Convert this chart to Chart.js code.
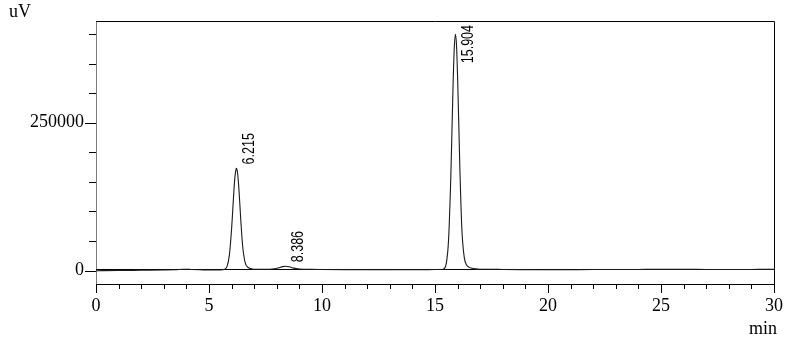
<!DOCTYPE html>
<html>
<head>
<meta charset="utf-8">
<script src="https://cdn.jsdelivr.net/npm/chart.js@4.4.1/dist/chart.umd.min.js"></script>
<style>
  html, body { margin: 0; padding: 0; background: #fff; }
  #wrap { width: 788px; height: 337px; }
</style>
</head>
<body>
<div id="wrap"><canvas id="chromChart" width="788" height="337"></canvas></div>
<script>
// ==============================================================
// 1. DATA
// ==============================================================
// retention time, min
const times = [
  0, 1, 2, 3, 3.5, 3.9, 4.2, 4.6, 5.0, 5.3, 5.6, 5.7, 5.8, 5.9, 6.0, 6.05, 6.1, 6.15,
  6.2, 6.215, 6.25, 6.3, 6.35, 6.4, 6.45, 6.5, 6.6, 6.7, 6.8, 6.9, 7.0, 7.5, 7.9, 8.1,
  8.25, 8.386, 8.55, 8.75, 9.0, 9.5, 10, 11, 12, 13, 14, 14.6, 15.0, 15.2, 15.3, 15.4,
  15.5, 15.6, 15.7, 15.75, 15.8, 15.85, 15.904, 15.95, 16.0, 16.05, 16.1, 16.15, 16.2,
  16.3, 16.4, 16.5, 16.6, 16.8, 17.0, 17.5, 18, 19, 20, 21, 22, 23, 24, 25, 26, 27, 28,
  29, 30, 30.6
];
// detector signal, uV
const signal = [
  0, 300, 700, 1100, 1500, 2300, 2100, 1700, 1100, 1200, 1600, 2400, 7200, 25800, 70800, 102000, 133800, 159300,
  172000, 172800, 168800, 150300, 121500, 89700, 60300, 37400, 13600, 6400, 4000, 3000, 2400, 2200, 3200, 4800,
  6800, 7600, 6600, 4300, 2900, 2200, 2000, 1800, 1700, 1700, 1800, 1850, 1900, 2000, 2100, 3300,
  12300, 52000, 159000, 236000, 314000, 374000, 399500, 382000, 327000, 251000, 173000, 109000, 62000,
  21200, 9600, 6000, 4400, 3000, 2500, 2300, 2100, 1800, 1600, 1700, 1900, 2000, 2100, 2200, 2200, 2100, 2000,
  2100, 2200, -1200
];
// straight baseline drawn under the trace
const baselineTimes = [0, 30];
const baselineValues = [2000, 2000];

// peak annotations
const peakTimes = [6.215, 8.386, 15.904];
const peakHeights = [172800, 7600, 399500];
const peakLabels = ['6.215', '8.386', '15.904'];

// axes
const xTickLabels = [0, 5, 10, 15, 20, 25, 30];
const xMinorTicks = [0, 1, 2, 3, 4, 5, 6, 7, 8, 9, 10, 11, 12, 13, 14, 15, 16, 17, 18, 19, 20, 21, 22, 23, 24, 25, 26, 27, 28, 29, 30];
const yTickLabels = [0, 250000];
const yMinorTicks = [50000, 100000, 150000, 200000, 300000, 350000, 400000];

const SERIF = '"Liberation Serif", "Times New Roman", serif';

// ==============================================================
// 2. PLUGIN: frame, tick marks, axis units, peak labels
// ==============================================================
const chromDecor = {
  id: 'chromDecor',
  afterDraw(chart) {
    const { ctx, chartArea: a, scales: { x, y } } = chart;
    ctx.save();
    ctx.strokeStyle = '#000';
    ctx.lineWidth = 1;

    // top + right frame
    ctx.beginPath();
    ctx.moveTo(a.left, Math.round(a.top) + 0.5);
    ctx.lineTo(Math.round(a.right) + 0.5, Math.round(a.top) + 0.5);
    ctx.lineTo(Math.round(a.right) + 0.5, Math.round(a.bottom) + 4);
    ctx.stroke();

    // x tick marks (major every 5 min)
    ctx.beginPath();
    xMinorTicks.forEach(t => {
      const px = Math.round(x.getPixelForValue(t)) + 0.5;
      const len = xTickLabels.includes(t) ? 9 : 5;
      ctx.moveTo(px, a.bottom);
      ctx.lineTo(px, a.bottom + len);
    });
    // y tick marks
    [...yTickLabels, ...yMinorTicks].forEach(v => {
      const py = Math.round(y.getPixelForValue(v)) + 0.5;
      const len = yTickLabels.includes(v) ? 11 : 7;
      ctx.moveTo(a.left - len, py);
      ctx.lineTo(a.left, py);
    });
    ctx.stroke();

    // units
    ctx.fillStyle = '#000';
    ctx.font = '18px ' + SERIF;
    ctx.textBaseline = 'alphabetic';
    ctx.textAlign = 'left';
    ctx.fillText('uV', 9, 17);
    ctx.textAlign = 'right';
    ctx.fillText('min', 777, 334);

    // peak retention time labels, rotated
    ctx.font = '16px "Liberation Sans", Arial, sans-serif';
    ctx.textAlign = 'left';
    ctx.textBaseline = 'middle';
    peakLabels.forEach((lbl, i) => {
      const px = x.getPixelForValue(peakTimes[i]) + 13;
      let py = y.getPixelForValue(peakHeights[i]) - 4;
      const len = ctx.measureText(lbl).width * 0.78;
      if (py - len < a.top + 4) py = a.top + 4 + len;
      ctx.save();
      ctx.translate(px, py);
      ctx.rotate(-Math.PI / 2);
      ctx.scale(0.78, 1);
      ctx.fillText(lbl, 0, 0);
      ctx.restore();
    });
    ctx.restore();
  }
};

// ==============================================================
// 3. CHART
// ==============================================================
const toPoints = (xs, ys) => xs.map((t, i) => ({ x: t, y: ys[i] }));

new Chart(document.getElementById('chromChart').getContext('2d'), {
  type: 'line',
  data: {
    datasets: [
      {
        label: 'signal',
        data: toPoints(times, signal),
        borderColor: '#1a1a1a',
        borderWidth: 1.1,
        pointRadius: 0,
        cubicInterpolationMode: 'monotone',
        clip: { left: 0, top: 0, right: 20, bottom: 0 },
        order: 0
      },
      {
        label: 'baseline',
        data: toPoints(baselineTimes, baselineValues),
        borderColor: '#000',
        borderWidth: 1,
        pointRadius: 0,
        order: 1
      }
    ]
  },
  options: {
    responsive: false,
    animation: false,
    devicePixelRatio: 1,
    layout: { padding: { top: 21, right: 14, left: 0, bottom: 0 } },
    plugins: { legend: { display: false }, tooltip: { enabled: false } },
    scales: {
      x: {
        type: 'linear',
        min: 0,
        max: 30,
        afterBuildTicks: s => { s.ticks = xTickLabels.map(v => ({ value: v })); },
        afterFit: s => { s.height = 53; s.paddingLeft = 0; s.paddingRight = 0; },
        grid: { display: false, drawTicks: false },
        border: { display: true, color: '#000', width: 1 },
        ticks: { color: '#000', padding: 11, maxRotation: 0, font: { family: SERIF, size: 18 } }
      },
      y: {
        min: -22500,
        max: 421800,
        afterBuildTicks: s => { s.ticks = yTickLabels.map(v => ({ value: v })); },
        afterFit: s => { s.width = 96; s.paddingTop = 0; s.paddingBottom = 0; },
        grid: { display: false, drawTicks: false },
        border: { display: true, color: '#7a7a7a', width: 1 },
        ticks: { color: '#000', padding: 12, font: { family: SERIF, size: 18 }, callback: v => String(v) }
      }
    }
  },
  plugins: [chromDecor]
});
</script>
</body>
</html>
